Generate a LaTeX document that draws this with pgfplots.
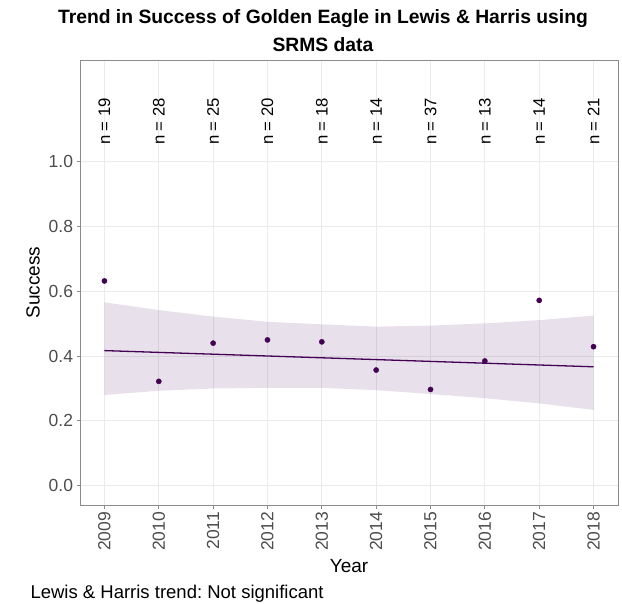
\documentclass[border=0pt]{standalone}
\usepackage{pgfplots}
\pgfplotsset{compat=1.18}
\usepackage{fontspec}
\setmainfont{Liberation Sans}
\usetikzlibrary{calc}
\frenchspacing

\definecolor{vir}{HTML}{440154}
\definecolor{gridc}{HTML}{EBEBEB}
\definecolor{framec}{HTML}{8C8C8C}
\definecolor{tickc}{HTML}{4D4D4D}

\begin{document}
\begin{tikzpicture}
\begin{axis}[
    width=538bp, height=445bp, scale only axis,
    xmin=2008.55, xmax=2018.45,
    ymin=-0.0596, ymax=1.314,
    xtick={2009,...,2018},
    ytick={0,0.2,0.4,0.6,0.8,1.0},
    /pgf/number format/assume math mode=true,
    x tick label style={/pgf/number format/1000 sep={}, rotate=90, anchor=east,
        font=\fontsize{17.5bp}{20bp}\selectfont, text=tickc},
    y tick label style={/pgf/number format/.cd, fixed, fixed zerofill, precision=1,
        /tikz/.cd, font=\fontsize{17.5bp}{20bp}\selectfont, text=tickc},
    grid=major,
    major grid style={gridc, line width=0.9bp},
    axis line style={framec, line width=0.9bp},
    tick style={framec, line width=0.9bp},
    tick align=outside,
    major tick length=3.5bp,
    xtick pos=bottom, ytick pos=left,
    clip=false,
]
% confidence ribbon
\addplot[fill=vir, fill opacity=0.12, draw=none] coordinates {
    (2009,0.566) (2010,0.542) (2011,0.522) (2012,0.506) (2013,0.498)
    (2014,0.491) (2015,0.494) (2016,0.501) (2017,0.511) (2018,0.525)
    (2018,0.234) (2017,0.254) (2016,0.270) (2015,0.283) (2014,0.295)
    (2013,0.302) (2012,0.302) (2011,0.300) (2010,0.293) (2009,0.280)
} -- cycle;
% trend
\addplot[vir, line width=1.3bp, mark=none] coordinates {
    (2009,0.417) (2018,0.367)
};
% yearly success
\addplot[only marks, mark=*, mark size=2.6bp, vir] coordinates {
    (2009,0.632) (2010,0.322) (2011,0.440) (2012,0.450) (2013,0.444)
    (2014,0.357) (2015,0.297) (2016,0.385) (2017,0.572) (2018,0.429)
};
% sample sizes
\addplot[draw=none, mark=none, point meta=explicit symbolic,
    nodes near coords={n = \pgfplotspointmeta},
    nodes near coords style={rotate=90, anchor=center, text=black,
        font=\fontsize{16.7bp}{19bp}\selectfont}] coordinates {
    (2009,1.124) [19] (2010,1.124) [28] (2011,1.124) [25] (2012,1.124) [20]
    (2013,1.124) [18] (2014,1.124) [14] (2015,1.124) [37] (2016,1.124) [13]
    (2017,1.124) [14] (2018,1.124) [21]
};
\end{axis}
\path[use as bounding box] ($(current axis.south west)+(-80bp,-99bp)$) rectangle ++(622bp,604bp);
\node[anchor=base, font=\bfseries\fontsize{19.3bp}{22bp}\selectfont]
    at ($(current axis.north west)+(243bp,36bp)$) {Trend in Success of Golden Eagle in Lewis \& Harris using};
\node[anchor=base, font=\bfseries\fontsize{19.3bp}{22bp}\selectfont]
    at ($(current axis.north west)+(243bp,8bp)$) {SRMS data};
\node[rotate=90, anchor=center, font=\fontsize{19bp}{22bp}\selectfont]
    at ($(current axis.west)+(-47bp,0)$) {Success};
\node[anchor=base, font=\fontsize{19bp}{22bp}\selectfont]
    at ($(current axis.south)+(0,-67bp)$) {Year};
\node[anchor=base west, font=\fontsize{18.5bp}{22bp}\selectfont]
    at ($(current axis.south west)+(-53bp,-93bp)$) {Lewis \& Harris trend: Not significant};
\end{tikzpicture}
\end{document}
